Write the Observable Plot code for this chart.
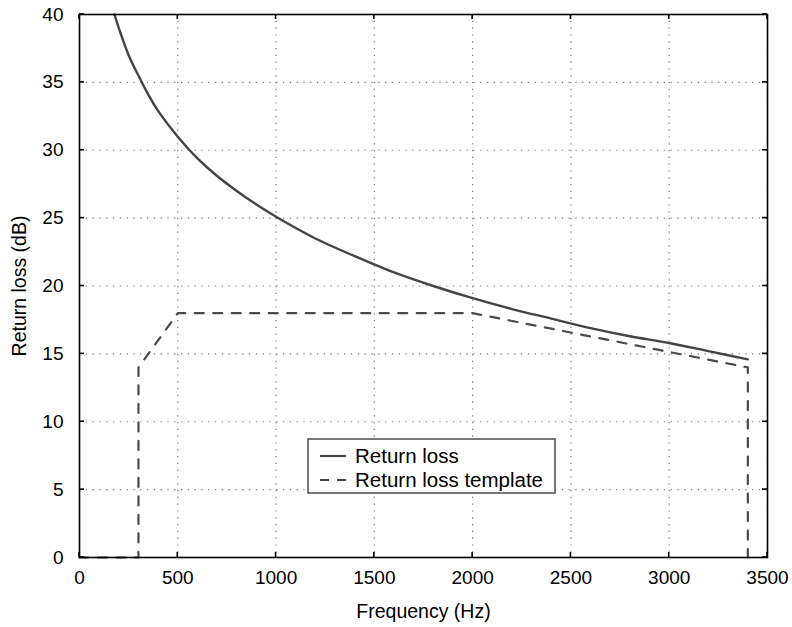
<!DOCTYPE html>
<html>
<head>
<meta charset="utf-8">
<script src="https://cdn.jsdelivr.net/npm/d3@7"></script>
<script src="https://cdn.jsdelivr.net/npm/@observablehq/plot@0.6"></script>
<style>
  html, body { margin: 0; padding: 0; background: #fff; }
  #chart { position: relative; width: 792px; height: 627px; }
  svg { font-family: "Liberation Sans", Arial, Helvetica, sans-serif; }
</style>
</head>
<body>
<div id="chart"></div>
<script>
// Return loss curve (Hz, dB)
const rlFreq = [178, 200, 250, 300, 350, 400, 500, 600, 700, 800, 900, 1000, 1200, 1400, 1600, 1800, 2000, 2200, 2400, 2600, 2800, 3000, 3200, 3400];
const rlDb   = [40.0, 39.0, 37.0, 35.5, 34.1, 32.9, 31.0, 29.4, 28.1, 27.0, 26.0, 25.1, 23.5, 22.2, 21.0, 20.0, 19.1, 18.3, 17.6, 16.9, 16.3, 15.8, 15.2, 14.6];
// Return loss template
const tplFreq = [0, 300, 300, 500, 2000, 3400, 3400];
const tplDb   = [0, 0, 14, 18, 18, 14, 0];
// Ticks
const xTicks = [0, 500, 1000, 1500, 2000, 2500, 3000, 3500];
const yTicks = [0, 5, 10, 15, 20, 25, 30, 35, 40];
const legendLabels = ["Return loss", "Return loss template"];

const rl = rlFreq.map((f, i) => ({f, db: rlDb[i]}));
const tpl = tplFreq.map((f, i) => ({f, db: tplDb[i]}));

const W = 792, H = 627;
const plot = Plot.plot({
  width: W, height: H,
  marginLeft: 79, marginRight: 25, marginTop: 14, marginBottom: 70,
  style: {fontFamily: '"Liberation Sans", Arial, Helvetica, sans-serif', fontSize: "19px", background: "#fff", color: "#000"},
  x: {domain: [0, 3500]},
  y: {domain: [0, 40]},
  marks: [
    Plot.gridX(xTicks, {stroke: "#777", strokeOpacity: 1, strokeWidth: 1.2, strokeDasharray: "1.2,5.6"}),
    Plot.gridY(yTicks, {stroke: "#777", strokeOpacity: 1, strokeWidth: 1.2, strokeDasharray: "1.2,5.6"}),
    Plot.axisX(xTicks, {tickSize: 0, tickPadding: 13, fontSize: 19, tickFormat: d => String(d), label: null}),
    Plot.axisY(yTicks, {tickSize: 0, tickPadding: 16, fontSize: 19, tickFormat: d => String(d), label: null}),
    Plot.axisX({tickSize: 0, ticks: [], fontSize: 19.5, label: "Frequency (Hz)", labelAnchor: "center", labelOffset: 60, labelArrow: "none"}),
    Plot.axisY({tickSize: 0, ticks: [], fontSize: 19.5, label: "Return loss (dB)", labelAnchor: "center", labelOffset: 67, labelArrow: "none"}),
    Plot.line(tpl, {x: "f", y: "db", stroke: "#4a4a4a", strokeWidth: 2.2, strokeDasharray: "9,9.5"}),
    Plot.line(rl, {x: "f", y: "db", stroke: "#444", strokeWidth: 2.4, curve: "catmull-rom"}),
    Plot.frame({stroke: "#000", strokeWidth: 1.6})
  ]
});
document.getElementById("chart").appendChild(plot);

const svg = d3.select(plot);
const xs = plot.scale("x").apply, ys = plot.scale("y").apply;
const [x0, x1] = [xs(0), xs(3500)];
const [yb, yt] = [ys(0), ys(40)];
const tickLen = 5;
const g = svg.append("g").attr("stroke", "#000").attr("stroke-width", 1.6);
xTicks.forEach(t => {
  const x = xs(t);
  g.append("line").attr("x1", x).attr("x2", x).attr("y1", yb).attr("y2", yb - tickLen);
  g.append("line").attr("x1", x).attr("x2", x).attr("y1", yt).attr("y2", yt + tickLen);
});
yTicks.forEach(t => {
  const y = ys(t);
  g.append("line").attr("x1", x0).attr("x2", x0 + tickLen).attr("y1", y).attr("y2", y);
  g.append("line").attr("x1", x1).attr("x2", x1 - tickLen).attr("y1", y).attr("y2", y);
});

// Legend
const lg = svg.append("g").attr("transform", "translate(308,439)").attr("text-anchor", "start");
lg.append("rect").attr("width", 247).attr("height", 54).attr("fill", "#fff").attr("stroke", "#555").attr("stroke-width", 1.6);
const styles = [{dash: null}, {dash: "9,8"}];
legendLabels.forEach((lab, i) => {
  const cy = 17 + i * 24;
  lg.append("line").attr("x1", 12).attr("x2", 38).attr("y1", cy).attr("y2", cy)
    .attr("stroke", "#444").attr("stroke-width", 2.2).attr("stroke-dasharray", styles[i].dash);
  lg.append("text").attr("x", 47).attr("y", cy).attr("dy", "0.35em").attr("text-anchor", "start")
    .attr("font-size", 20.5).attr("fill", "#000").text(lab);
});
</script>
</body>
</html>
